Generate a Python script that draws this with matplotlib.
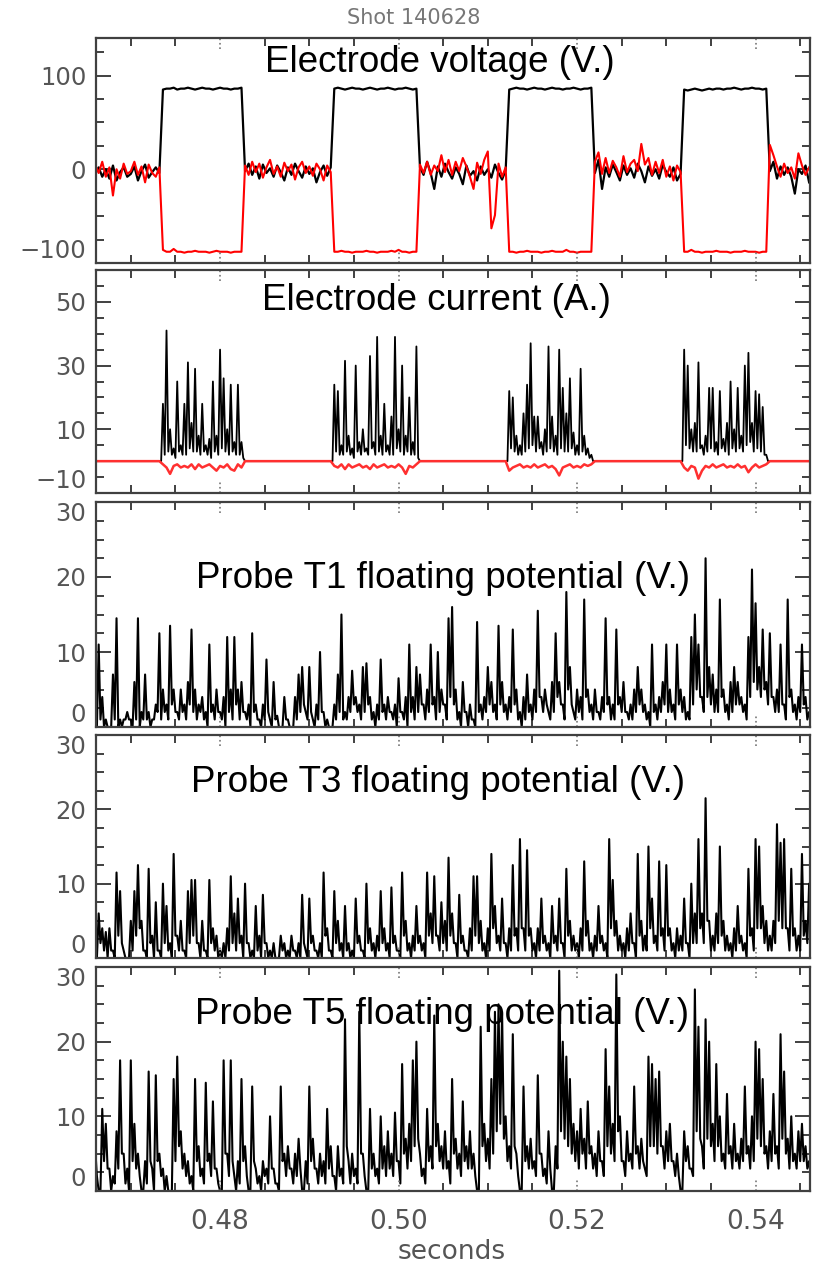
"""Shot 140628: electrode bias and probe floating potentials, five stacked traces."""
import matplotlib
import numpy as np

matplotlib.use("Agg")
import matplotlib.pyplot as plt  # noqa: E402
from matplotlib.ticker import MultipleLocator  # noqa: E402

T_START = 0.466
T_STEP = 0.0004

VOLT_BLACK = [
    -5, 2, -8, 0, -10, 4, -12, -3, 2, -8, -5, 3, -12, -2, 5, -9, -3, 2, -4,
    85, 86, 86, 87, 85, 86, 86, 87, 86, 85, 86, 87, 86, 86, 85, 86, 87, 86, 86, 85, 86, 86, 87,
    -2, 6, -6, 3, -10, 5, -4, 1, -8, 4, -3, -12, 2, -6, 6, -2, -9, 3, -5, 1, -14, -3, 4, -7, 2,
    86, 87, 86, 85, 86, 87, 86, 86, 85, 86, 87, 86, 85, 86, 86, 87, 86, 85, 86, 86, 87, 86, 85, 86,
    2, -6, 8, -4, -21, 3, -8, 6, -3, -10, 2, -5, -16, 4, -7, -2, -12, 3, -6, 0, -9, 5, -4, -11, -1,
    85, 86, 87, 86, 86, 85, 86, 87, 86, 86, 85, 86, 87, 86, 86, 85, 86, 86, 87, 86, 85, 86, 86, 87,
    -4, 10, -21, 2, -8, 5, -3, -12, 4, -6, 1, -9, 6, -2, -14, 3, -7, 0, -10, 5, -3, -8, 2, -12, -5,
    85, 84, 85, 86, 85, 84, 85, 86, 85, 86, 86, 85, 86, 86, 87, 86, 85, 86, 86, 87, 86, 86, 85, 86,
    -2, 8, -10, 3, -6, 2, -8, -26, 0, -5, 4, -14,
]
VOLT_RED = [
    5, -4, 8, -8, 2, -28, 0, -10, 6, -5, -2, 8, -6, 3, -14, 5, -4, -8, 2,
    -86, -88, -88, -85, -88, -88, -89, -88, -88, -87, -88, -88, -88, -89, -88, -87, -88, -88,
    -88, -89, -88, -88, -88,
    4, -6, 8, -3, 6, -9, 2, 10, -5, 3, -8, 7, -2, 5, -11, 2, 8, -4, 3, -7, 6, 0, -12, 4, -3,
    -88, -88, -87, -88, -88, -89, -88, -88, -88, -87, -88, -88, -89, -88, -88, -88, -87, -88,
    -86, -88, -88, -89, -88, -88,
    5, -4, 8, -6, 4, -2, 15, -3, 10, -6, 8, -2, 12, 3, -8, -21, 7, -5, 10, 19, -63, -49, 6, -8, 2,
    -88, -88, -89, -88, -88, -87, -88, -88, -88, -89, -88, -88, -87, -88, -88, -88, -86, -88,
    -88, -89, -88, -88, -88, -88,
    8, 18, -5, 12, -4, 9, 2, -8, 14, -3, 6, 10, -2, 27, 5, 12, -6, 8, -4, 10, -8, 3, -12, 4, -3,
    -88, -88, -86, -88, -88, -89, -88, -88, -88, -87, -88, -88, -88, -89, -88, -88, -88, -87,
    -88, -88, -88, -89, -88, -88,
    26, 15, 3, -8, 6, -4, 2, -10, 17, 4, -6, 2,
]

# fast traces: the upper (peak) and lower (trough) excursion read in each sample slot
CUR_PEAK = [
    0, 0, 0, 0, 0, 0, 0, 0, 0, 0, 0, 0, 0, 0, 0, 0, 0, 0, 0,
    18, 41, 10, 4, 25, 5, 18, 31, 12, 29, 8, 18, 5, 7, 25, 8, 35, 26, 10, 24, 6, 24, 6,
    0, 0, 0, 0, 0, 0, 0, 0, 0, 0, 0, 0, 0, 0, 0, 0, 0, 0, 0, 0, 0, 0, 0, 0, 0,
    24, 22, 5, 31.5, 8, 4, 30, 6, 10, 4, 33, 6, 39, 8, 18, 5, 14, 39, 10, 30, 8, 20, 6, 36,
    0, 0, 0, 0, 0, 0, 0, 0, 0, 0, 0, 0, 0, 0, 0, 0, 0, 0, 0, 0, 0, 0, 0, 0, 0,
    22, 20, 8, 5, 15, 24, 37, 14, 14, 6, 10, 36, 14, 8, 35, 23, 15, 26, 9, 5, 29, 8, 4, 2,
    0, 0, 0, 0, 0, 0, 0, 0, 0, 0, 0, 0, 0, 0, 0, 0, 0, 0, 0, 0, 0, 0, 0, 0, 0,
    35, 30, 10, 12, 31, 5, 8, 23, 23, 6, 22, 7, 12, 25, 10, 23, 8, 30, 34, 12, 22, 21, 17, 2,
    0, 0, 0, 0, 0, 0, 0, 0, 0, 0, 0, 0,
]
CUR_TROUGH = [
    0, 0, 0, 0, 0, 0, 0, 0, 0, 0, 0, 0, 0, 0, 0, 0, 0, 0, 0,
    2, 3, 2, 1, 3, 2, 2, 4, 3, 3, 2, 3, 2, 1, 3, 2, 4, 3, 2, 3, 2, 2, 1,
    0, 0, 0, 0, 0, 0, 0, 0, 0, 0, 0, 0, 0, 0, 0, 0, 0, 0, 0, 0, 0, 0, 0, 0, 0,
    3, 2, 2, 3, 2, 1, 3, 2, 3, 2, 4, 2, 3, 2, 3, 2, 2, 4, 3, 2, 3, 2, 2, 1,
    0, 0, 0, 0, 0, 0, 0, 0, 0, 0, 0, 0, 0, 0, 0, 0, 0, 0, 0, 0, 0, 0, 0, 0, 0,
    4, 3, 2, 2, 3, 4, 5, 3, 4, 2, 3, 4, 3, 2, 4, 3, 3, 4, 2, 2, 3, 2, 1, 0,
    0, 0, 0, 0, 0, 0, 0, 0, 0, 0, 0, 0, 0, 0, 0, 0, 0, 0, 0, 0, 0, 0, 0, 0, 0,
    5, 4, 3, 3, 4, 2, 3, 4, 3, 2, 4, 3, 2, 4, 3, 4, 3, 5, 6, 3, 4, 3, 2, 0,
    0, 0, 0, 0, 0, 0, 0, 0, 0, 0, 0, 0,
]
CUR_RED = [
    0, 0, 0, 0, 0, 0, 0, 0, 0, 0, 0, 0, 0, 0, 0, 0, 0, 0, 0,
    -1, -2, -4, -1.5, -1, -2, -1.5, -2, -1, -2.5, -1, -2, -1.5, -1, -2, -3, -1.5, -2, -1,
    -2.5, -3, -1, -2,
    0, 0, 0, 0, 0, 0, 0, 0, 0, 0, 0, 0, 0, 0, 0, 0, 0, 0, 0, 0, 0, 0, 0, 0, 0,
    -1.5, -2, -1, -2.5, -1, -2, -1.5, -1, -2, -1.5, -2.5, -1, -2, -1.5, -1, -2, -1.5, -2, -1,
    -2, -4, -1.5, -2, -1,
    0, 0, 0, 0, 0, 0, 0, 0, 0, 0, 0, 0, 0, 0, 0, 0, 0, 0, 0, 0, 0, 0, 0, 0, 0,
    -3, -2, -1.5, -1, -2, -1.5, -2, -1, -2, -1.5, -1, -2, -1.5, -2.5, -4.5, -2, -1.5, -1, -2,
    -1.5, -2, -1, -1.5, -1,
    0, 0, 0, 0, 0, 0, 0, 0, 0, 0, 0, 0, 0, 0, 0, 0, 0, 0, 0, 0, 0, 0, 0, 0, 0,
    -2, -3, -1.5, -2, -5.5, -3, -1.5, -2, -1, -2, -1.5, -1, -2, -1.5, -2, -1, -2, -1.5, -3.5,
    -2, -1, -2, -1.5, -1,
    0, 0, 0, 0, 0, 0, 0, 0, 0, 0, 0, 0,
]

T1_PEAK = [
    3, 11, 4, 1, 0, 7, 14.5, 1, 1, 2, 1, 6, 14.5, 2, 7, 2, 1, 3, 12.5, 5,
    3, 13.5, 5, 2, 5, 3, 6, 13, 5, 3, 4, 2, 11, 3, 5, 2, 4, 12, 5, 12,
    5, 6, 2, 3, 12.5, 3, 1, 3, 9, 1, 6, 1.5, 0, 4, 1, 0, 4, 7, 8, 2,
    8, 1, 3, 10, 2, 1, 0, 3, 7, 15, 2, 4, 7.5, 4, 3, 8, 8.5, 4, 2, 3,
    9, 3, 4, 2, 3, 6.5, 2, 4, 11, 4, 8, 7, 3, 5, 11, 4, 10, 5, 3, 14.5,
    16, 5, 2, 6, 2, 3, 1, 14, 3, 4, 8, 6, 3, 13.5, 6, 3, 4, 13, 5, 2,
    4, 7, 3, 5, 15.5, 4, 5, 2, 6, 12.5, 6, 3, 18, 8, 2, 5, 4, 17, 5, 3,
    5, 2, 4, 14.5, 4, 3, 13, 4, 6, 2, 3, 5, 8, 5, 3, 2, 11, 3, 4, 6,
    11, 5, 3, 11, 5, 4, 2, 12, 15, 11, 4, 22.5, 8, 7, 5, 17, 5, 3, 6, 8,
    6, 4, 3, 12, 21, 16.5, 8, 13, 6, 12.5, 4, 5, 11, 3, 17, 5, 3, 4, 11, 4,
    2,
]
T1_TROUGH = [
    0, 1, 0, 0, 0, 1, 0, 0, 1, 1, 0, 1, 0, 1, 1, 0, 1, 2, 1, 2,
    1, 3, 2, 1, 2, 1, 3, 2, 1, 2, 1, 0, 2, 1, 2, 1, 0, 2, 1, 3,
    1, 2, 1, 0, 2, 1, 0, 1, 2, 0, 1, 0, 0, 1, 0, 0, 1, 2, 3, 1,
    2, 0, 1, 2, 0, 0, 0, 1, 2, 1, 1, 2, 3, 2, 1, 2, 3, 1, 0, 1,
    2, 1, 2, 1, 0, 2, 1, 0, 2, 1, 2, 3, 1, 2, 3, 1, 2, 3, 1, 4,
    3, 1, 0, 2, 0, 1, 0, 2, 1, 2, 3, 2, 1, 3, 2, 1, 2, 3, 1, 0,
    1, 2, 1, 2, 4, 2, 3, 1, 2, 4, 3, 1, 5, 3, 1, 2, 1, 4, 2, 1,
    2, 1, 2, 3, 1, 1, 3, 2, 2, 1, 1, 2, 3, 2, 1, 0, 2, 1, 2, 3,
    2, 2, 1, 3, 2, 1, 1, 3, 5, 4, 2, 4, 3, 2, 2, 4, 2, 1, 2, 3,
    3, 2, 1, 4, 6, 5, 4, 5, 3, 4, 2, 2, 3, 1, 4, 2, 1, 2, 3, 1,
    1,
]
T3_PEAK = [
    2, 6, 4, 3.5, 4, 1, 11.5, 9, 1, 0, 5, 9, 12.5, 5, 1, 12, 3, 7.5, 1, 10,
    7, 2, 14, 3, 5, 1, 9, 10.5, 10.5, 2, 5, 1, 10.5, 4, 3, 1, 2, 4, 11, 6,
    8, 3, 10, 2, 1, 7, 3, 8.5, 2, 1, 2, 0, 3, 2, 1, 3, 1, 2, 8.5, 1,
    8, 3, 1, 2, 11.5, 4, 1, 9, 5, 2, 7, 2, 1, 8, 3, 1, 10, 4, 2, 3,
    9, 4, 2, 9.5, 3, 1, 11.5, 5, 2, 3, 7, 3, 2, 11.5, 6, 11, 3, 7.5, 5, 13.5,
    6, 2, 8.5, 3, 1, 4, 11, 11, 5, 2, 4, 14, 7, 3, 8, 2, 4, 12.5, 4, 16,
    4, 14.5, 4, 2, 4, 8, 3, 2, 7, 3, 8, 2, 12, 5, 3, 2, 4, 13, 5, 2,
    3, 7, 3, 2, 16, 10.5, 5, 3, 2, 4, 6, 2, 14, 5, 3, 15, 8, 3, 13, 4,
    12.5, 4, 2, 4, 3, 8, 2, 10, 6, 16, 6, 21.5, 5, 3, 6, 15, 5, 3, 2, 4,
    7, 3, 2, 12, 4, 16, 15, 7, 5, 3, 5, 18, 15.5, 16, 4, 12, 4, 3, 14, 5,
    10,
]
T3_TROUGH = [
    0, 2, 1, 0, 1, 0, 3, 2, 0, 0, 1, 3, 4, 1, 0, 2, 0, 1, 0, 2,
    1, 0, 3, 1, 1, 0, 2, 3, 2, 0, 1, 0, 2, 1, 0, 0, 0, 1, 2, 1,
    2, 0, 2, 0, 0, 1, 0, 2, 0, 0, 0, 0, 1, 0, 0, 1, 0, 0, 2, 0,
    2, 1, 0, 0, 3, 1, 0, 2, 1, 0, 1, 0, 0, 2, 1, 0, 2, 1, 0, 1,
    2, 1, 0, 2, 1, 0, 3, 1, 0, 1, 2, 1, 0, 3, 2, 3, 1, 2, 1, 3,
    2, 0, 2, 1, 0, 1, 3, 2, 1, 0, 1, 4, 2, 1, 2, 0, 1, 3, 1, 4,
    1, 3, 1, 0, 1, 2, 1, 0, 2, 1, 2, 0, 3, 1, 1, 0, 1, 3, 1, 0,
    1, 2, 1, 0, 4, 3, 1, 1, 0, 1, 2, 0, 3, 1, 1, 4, 2, 1, 3, 1,
    3, 1, 0, 1, 1, 2, 0, 2, 2, 4, 2, 5, 1, 1, 2, 3, 1, 1, 0, 1,
    2, 1, 0, 3, 1, 4, 4, 2, 1, 1, 2, 5, 4, 4, 1, 3, 1, 1, 3, 2,
    2,
]
T5_PEAK = [
    6, 0, 11, 9, 3, 2, 8, 17.5, 5, 3, 17.5, 9, 5, 0, 4, 16, 3, 15.5, 5, 3,
    2, 0, 15, 18, 8, 5, 4, 2, 15, 6, 3, 14.5, 5, 12, 3, 0, 17.5, 5, 17.5, 2,
    4, 15, 6, 0, 14, 3, 2, 4, 3, 10, 3, 1, 14, 5, 6, 3, 5, 7, 0, 4,
    14, 7, 3, 5, 4, 11, 6, 2, 6, 3, 23, 4, 5, 3, 24, 5, 0, 11, 5, 3,
    10, 6, 8, 5, 10.5, 4, 17, 7, 9, 17.5, 20, 5, 3, 11, 6, 23.5, 9, 6, 8, 4,
    15, 7, 5, 12, 6, 8, 5, 0, 22, 9, 7, 15, 24, 25, 24, 10, 6, 21, 5, 0,
    14, 6, 7, 4, 15.5, 5, 3, 8, 0, 6, 29.5, 20, 18, 15, 9, 8, 11, 7, 12, 6,
    5, 8, 4, 19, 14, 9, 29, 10, 4, 8, 5, 14, 6, 7, 3, 18, 17, 15, 16, 6,
    8, 9, 4, 5, 0, 8, 6, 3, 27, 22, 6, 23, 20, 9, 17, 10, 5, 13, 6, 9,
    5, 7, 14, 6, 10, 20, 19, 15, 6, 8, 13, 6, 21, 16, 7, 10, 5, 8, 9, 6,
    4,
]
T5_TROUGH = [
    2, 0, 4, 3, 0, 1, 3, 5, 1, 0, 4, 3, 2, 0, 1, 4, 0, 4, 2, 0,
    0, 0, 4, 6, 3, 2, 1, 0, 4, 2, 1, 4, 2, 3, 1, 0, 5, 2, 4, 0,
    1, 4, 2, 0, 4, 1, 0, 2, 1, 3, 1, 0, 4, 2, 3, 1, 2, 3, 0, 1,
    4, 3, 1, 2, 1, 3, 2, 0, 2, 1, 6, 1, 2, 1, 5, 2, 0, 3, 2, 1,
    3, 2, 3, 2, 4, 1, 5, 3, 4, 6, 7, 2, 1, 4, 3, 6, 4, 3, 3, 1,
    5, 3, 2, 4, 3, 3, 2, 0, 6, 4, 3, 5, 8, 9, 7, 4, 3, 6, 2, 0,
    4, 3, 3, 2, 5, 2, 1, 3, 0, 3, 8, 7, 6, 5, 4, 3, 5, 3, 5, 3,
    2, 4, 2, 6, 5, 4, 8, 4, 2, 4, 3, 5, 3, 4, 2, 6, 6, 5, 6, 3,
    4, 4, 2, 2, 0, 4, 3, 2, 8, 7, 3, 7, 6, 4, 6, 4, 3, 5, 3, 4,
    3, 4, 5, 3, 4, 7, 6, 5, 3, 4, 5, 3, 7, 5, 3, 4, 3, 4, 4, 3,
    2,
]

X_LIM = (0.4661, 0.5461)
X_TICKS = [0.48, 0.50, 0.52, 0.54]
X_TICK_LABELS = ["0.48", "0.50", "0.52", "0.54"]

TITLES = ["Electrode voltage (V.)", "Electrode current (A.)",
          "Probe T1 floating potential (V.)", "Probe T3 floating potential (V.)",
          "Probe T5 floating potential (V.)"]
Y_LIMS = [(-100, 140), (-10, 60), (0, 30), (0, 30), (0, 30)]
Y_TICKS = [[-100, 0, 100], [-10, 10, 30, 50], [0, 10, 20, 30], [0, 10, 20, 30], [0, 10, 20, 30]]
Y_MINOR = [25, 5, 2.5, 2.5, 2.5]

# layout in pixels of the 813x1268 canvas
W, H = 813, 1268
LEFT, RIGHT = 96, 810
PANEL_PX = [(38, 263), (270, 493), (502, 727), (735, 958), (967, 1191)]
TITLE_PX = [(440, 62), (436, 300), (443, 578), (438, 782), (442, 1015)]
FRAME = "#404040"
LABEL = "#555555"


def times(vals):
    return T_START + T_STEP * np.arange(len(vals))


def fast_trace(peak, trough):
    """Alternate peak / trough readings, trough half a sample after its peak."""
    v = np.empty(len(peak) + len(trough))
    v[0::2] = peak
    v[1::2] = trough
    return T_START + 0.5 * T_STEP * np.arange(len(v)), v


def style(ax, i, bottom):
    ax.set_xlim(*X_LIM)
    ax.set_ylim(*Y_LIMS[i])
    ax.set_xticks(X_TICKS, labels=X_TICK_LABELS if bottom else [])
    ax.xaxis.set_minor_locator(MultipleLocator(0.005))
    ax.set_yticks(Y_TICKS[i])
    ax.yaxis.set_minor_locator(MultipleLocator(Y_MINOR[i]))
    ax.tick_params(which="both", direction="in", top=True, right=True,
                   color=FRAME, labelcolor=LABEL, width=1.4)
    ax.tick_params(axis="x", which="major", length=0, labelsize=19, pad=13,
                   labelbottom=bottom)
    ax.tick_params(axis="x", which="minor", length=6)
    ax.tick_params(axis="y", which="major", length=11, labelsize=17.5, pad=7)
    ax.tick_params(axis="y", which="minor", length=6)
    for sp in ax.spines.values():
        sp.set_color(FRAME)
        sp.set_linewidth(1.6)
    # major x ticks are drawn as short dotted marks, as in the original IDL plot
    tr = ax.get_xaxis_transform()
    for x in X_TICKS:
        ax.plot([x, x], [0, 0.05], transform=tr, color="#777777", lw=1.2, ls=":")
        ax.plot([x, x], [0.95, 1], transform=tr, color="#777777", lw=1.2, ls=":")
    labs = ax.get_yticklabels()
    lo, hi = Y_LIMS[i]
    if Y_TICKS[i][0] == lo:
        labs[0].set_va("bottom")
    if Y_TICKS[i][-1] == hi:
        labs[-1].set_va("top")


def main():
    fig = plt.figure(figsize=(W / 100, H / 100), dpi=100)
    axes = []
    for top, bot in PANEL_PX:
        axes.append(fig.add_axes([LEFT / W, 1 - bot / H, (RIGHT - LEFT) / W, (bot - top) / H]))

    axes[0].plot(times(VOLT_BLACK), VOLT_BLACK, color="black", lw=1.6)
    axes[0].plot(times(VOLT_RED), VOLT_RED, color="red", lw=1.5)
    axes[1].plot(*fast_trace(CUR_PEAK, CUR_TROUGH), color="black", lw=1.3)
    axes[1].plot(times(CUR_RED), CUR_RED, color="#ff3030", lw=1.8)
    probes = [(T1_PEAK, T1_TROUGH), (T3_PEAK, T3_TROUGH), (T5_PEAK, T5_TROUGH)]
    for ax, (peak, trough) in zip(axes[2:], probes):
        ax.plot(*fast_trace(peak, trough), color="black", lw=1.5)

    for i, ax in enumerate(axes):
        style(ax, i, i == len(axes) - 1)
        x, y = TITLE_PX[i]
        fig.text(x / W, 1 - y / H, TITLES[i], ha="center", va="center",
                 fontsize=26.5, family=["Liberation Sans", "DejaVu Sans"])

    fig.text(414 / W, 1 - 18 / H, "Shot 140628", ha="center", va="center",
             fontsize=15, color="#777777")
    fig.text(452 / W, 1 - 1252 / H, "seconds", ha="center", va="center",
             fontsize=19, color=LABEL)
    fig.savefig("out.png", dpi=100)
    plt.close(fig)


if __name__ == "__main__":
    main()
